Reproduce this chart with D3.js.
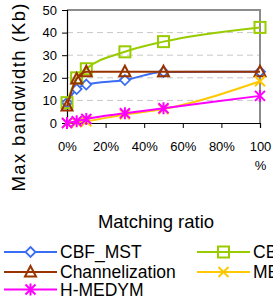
<!DOCTYPE html>
<html>
<head>
<meta charset="utf-8">
<script src="https://cdn.jsdelivr.net/npm/d3@7"></script>
<style>
  body { margin: 0; background: #fff; overflow: hidden; }
  text { font-family: "Liberation Sans", Arial, sans-serif; fill: #000; }
</style>
</head>
<body>
<div id="chart"></div>
<script>
// data
var ratios = [0, 5, 10, 30, 50, 100];
var cbfMst = [9, 15, 17, 19, 22.6, 22.7];
var cbfGreen = [9, 20, 24, 31.5, 36, 42.3];
var channelization = [7.5, 19.5, 22.7, 22.7, 22.7, 22.7];
var medym = [0, 0.3, 0.8, 3.8, 6.2, 18.5];
var hMedym = [0, 0.8, 1.8, 4.3, 6.5, 12];
var yTicks = [0, 10, 20, 30, 40, 50];
var xTicks = [0, 20, 40, 60, 80, 100];
var seriesNames = ["CBF_MST", "CBF", "Channelization", "MEDYM", "H-MEDYM"];

var svgWidth = 273;
var svgHeight = 304;

// plot area
var chartMargin = { top: 10, left: 67 };
var chartWidth = 193;
var chartHeight = 113;

var svg = d3.select("#chart")
  .append("svg")
  .attr("width", svgWidth)
  .attr("height", svgHeight);

var chartGroup = svg.append("g")
  .attr("transform", `translate(${chartMargin.left}, ${chartMargin.top})`);

var xScale = d3.scaleLinear().domain([0, 100]).range([0, chartWidth]);
var yScale = d3.scaleLinear().domain([0, 50]).range([chartHeight, 0]);

// dashed gridlines
chartGroup.selectAll(".grid")
  .data(yTicks.slice(1, 5))
  .enter()
  .append("line")
  .attr("x1", 0)
  .attr("x2", chartWidth)
  .attr("y1", d => yScale(d))
  .attr("y2", d => yScale(d))
  .attr("stroke", "#c8c8c8")
  .attr("stroke-width", 1)
  .attr("stroke-dasharray", "6,4");

// gray frame on top and right
chartGroup.append("path")
  .attr("d", `M0,0H${chartWidth}V${chartHeight}`)
  .attr("fill", "none")
  .attr("stroke", "#8c8c8c")
  .attr("stroke-width", 2);

// axes
var leftAxis = d3.axisLeft(yScale).tickValues(yTicks).tickSize(5).tickPadding(5);
var bottomAxis = d3.axisBottom(xScale).tickValues(xTicks).tickSize(5).tickPadding(14)
  .tickFormat(d => d + "%");

var yAxisG = chartGroup.append("g").call(leftAxis);
var xAxisG = chartGroup.append("g")
  .attr("transform", `translate(0, ${chartHeight})`)
  .call(bottomAxis);

[yAxisG, xAxisG].forEach(function(g) {
  g.select(".domain").attr("stroke", "#000").attr("stroke-width", 1.2);
  g.selectAll(".tick line").attr("stroke", "#000");
  g.selectAll("text").attr("font-size", 13).attr("font-family", "Liberation Sans, Arial, sans-serif");
});

// the 100% label wraps onto two lines
xAxisG.selectAll(".tick text")
  .filter(d => d === 100)
  .text(null)
  .call(function(t) {
    t.append("tspan").attr("x", 0).text("100");
    t.append("tspan").attr("x", 0).attr("dy", "1.45em").text("%");
  });

// series
var seriesList = [
  { name: seriesNames[0], values: cbfMst, color: "#3a6cf4", marker: "diamond" },
  { name: seriesNames[1], values: cbfGreen, color: "#99cc00", marker: "square" },
  { name: seriesNames[2], values: channelization, color: "#993300", marker: "triangle" },
  { name: seriesNames[3], values: medym, color: "#ffc800", marker: "x" },
  { name: seriesNames[4], values: hMedym, color: "#ff00ff", marker: "star" }
];

var line = d3.line()
  .x(d => xScale(d[0]))
  .y(d => yScale(d[1]))
  .curve(d3.curveMonotoneX);

function drawMarker(g, type, color) {
  if (type === "diamond") {
    g.append("path").attr("d", "M0,-5L5,0L0,5L-5,0Z")
      .attr("fill", "#fff").attr("stroke", color).attr("stroke-width", 1.8);
  } else if (type === "square") {
    g.append("rect").attr("x", -5.5).attr("y", -5.5).attr("width", 11).attr("height", 11)
      .attr("fill", "none").attr("stroke", color).attr("stroke-width", 2);
  } else if (type === "triangle") {
    g.append("path").attr("d", "M0,-6L5.5,4.5L-5.5,4.5Z")
      .attr("fill", "none").attr("stroke", color).attr("stroke-width", 2);
  } else if (type === "x") {
    g.append("path").attr("d", "M-5,-5L5,5M-5,5L5,-5")
      .attr("stroke", color).attr("stroke-width", 2);
  } else {
    g.append("path").attr("d", "M-5,-5L5,5M-5,5L5,-5M0,-6V6")
      .attr("stroke", color).attr("stroke-width", 2);
  }
}

seriesList.forEach(function(s) {
  var pts = ratios.map((r, i) => [r, s.values[i]]);
  chartGroup.append("path")
    .datum(pts)
    .attr("d", line)
    .attr("fill", "none")
    .attr("stroke", s.color)
    .attr("stroke-width", 2);
  pts.forEach(function(p) {
    var g = chartGroup.append("g")
      .attr("transform", `translate(${xScale(p[0])}, ${yScale(p[1])})`);
    drawMarker(g, s.marker, s.color);
  });
});

// axis titles
svg.append("text")
  .attr("transform", "translate(25, 97.5) rotate(-90)")
  .attr("text-anchor", "middle")
  .attr("font-size", 18.5)
  .attr("textLength", 188)
  .attr("lengthAdjust", "spacing")
  .text("Max bandwidth (Kb)");

svg.append("text")
  .attr("x", 156)
  .attr("y", 228)
  .attr("text-anchor", "middle")
  .attr("font-size", 18.5)
  .text("Matching ratio");

// legend
var legendPos = [[4, 252], [197, 252], [4, 272], [197, 272], [4, 289.5]];
seriesList.forEach(function(s, i) {
  var lg = svg.append("g")
    .attr("transform", `translate(${legendPos[i][0]}, ${legendPos[i][1]})`);
  lg.append("line")
    .attr("x1", 0).attr("x2", 53)
    .attr("stroke", s.color).attr("stroke-width", 2);
  var m = lg.append("g").attr("transform", "translate(26.5, 0)");
  drawMarker(m, s.marker, s.color);
  lg.append("text")
    .attr("x", 56)
    .attr("y", 6.3)
    .attr("font-size", 17.5)
    .text(s.name);
});
</script>
</body>
</html>
